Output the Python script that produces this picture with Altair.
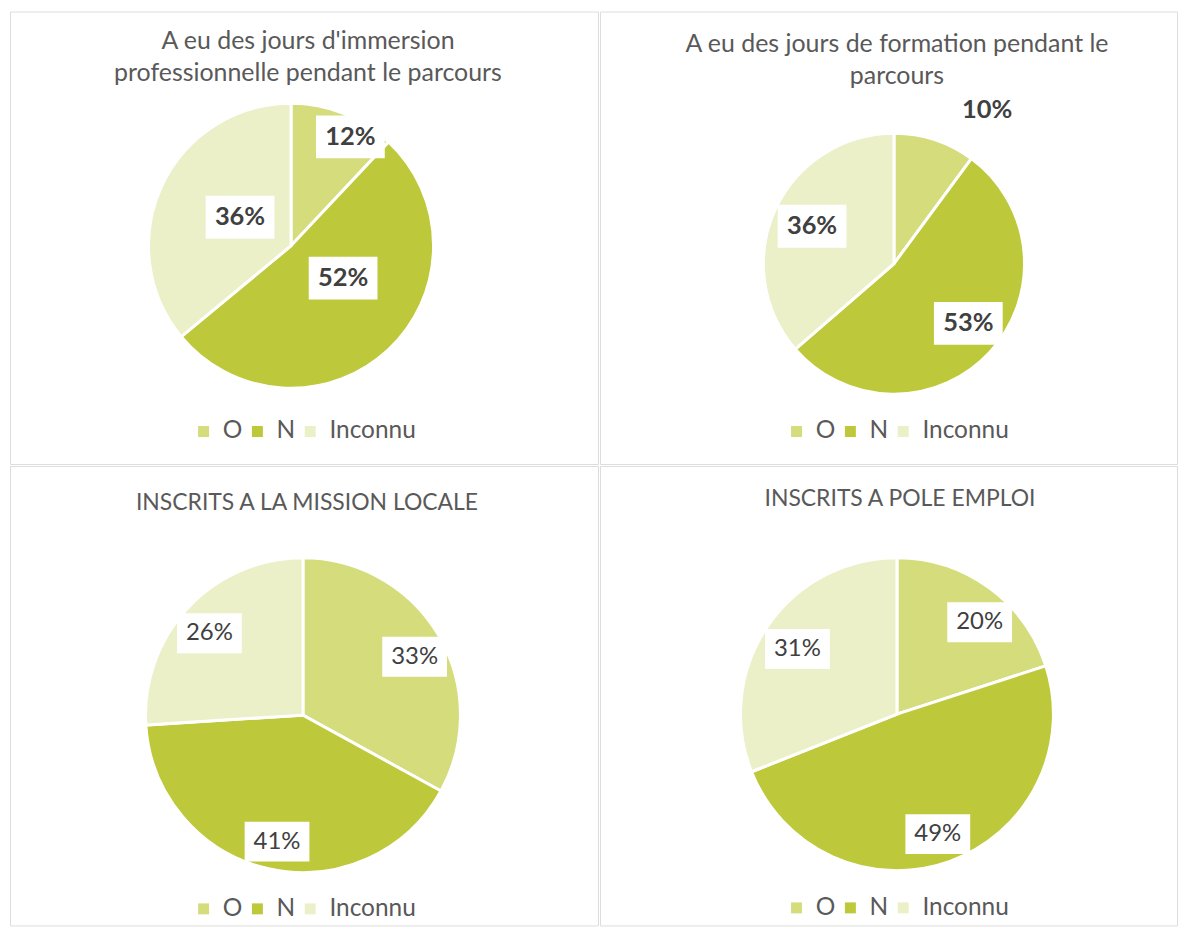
import math
import altair as alt
import pandas as pd

# ---------------- data ----------------
categories = ["O", "N", "Inconnu"]
colors = ["#D4DC7C", "#BDC83A", "#ECF0C8"]

titles = [
    ["A eu des jours d'immersion", "professionnelle pendant le parcours"],
    ["A eu des jours de formation pendant le", "parcours"],
    ["INSCRITS A LA MISSION LOCALE"],
    ["INSCRITS A POLE EMPLOI"],
]
values_immersion = [12, 52, 36]
values_formation = [10, 53, 36]
values_mission = [33, 41, 26]
values_pole = [20, 49, 31]
all_values = [values_immersion, values_formation, values_mission, values_pole]

# ---------------- layout (positions / styles) ----------------
layouts = [
    dict(w=590, h=454, cx=282, cy=235, r=143, tx=299, ty=30, tfs=25, lgx=182, lgy=409,
         lr=[0.87, 0.43, 0.41], ls=[7, -15, 4], box=[1, 1, 1], bw=69, bh=43,
         weight="bold", lfs=25.5),
    dict(w=579, h=454, cx=295, cy=253, r=131, tx=298, ty=33, tfs=25, lgx=185, lgy=409,
         lr=[1.38, 0.73, 0.69], ls=[13, -4, 0], box=[0, 1, 1], bw=69, bh=43,
         weight="bold", lfs=25.5),
    dict(w=590, h=461, cx=294, cy=250, r=158, tx=298, ty=37, tfs=23, lgx=182, lgy=432,
         lr=[0.80, 0.82, 0.79], ls=[3, -1, -2], box=[1, 1, 1], bw=65, bh=40,
         weight="normal", lfs=24),
    dict(w=579, h=461, cx=298, cy=249, r=157, tx=301, ty=33, tfs=23, lgx=185, lgy=431,
         lr=[0.79, 0.81, 0.76], ls=[6, 1, -1], box=[1, 1, 1], bw=65, bh=40,
         weight="normal", lfs=24),
]

FONT = "Lato"


def panel(title_lines, vals, L):
    df = pd.DataFrame({
        "cat": categories,
        "v": vals,
        "idx": list(range(len(categories))),
        "lr": L["lr"],
        "ls": L["ls"],
        "box": L["box"],
    })
    base = alt.Chart(df)

    arcs = base.mark_arc(outerRadius=L["r"], stroke="white", strokeWidth=3).encode(
        theta=alt.Theta("v:Q", stack=True),
        order=alt.Order("idx:Q"),
        color=alt.Color(
            "cat:N",
            scale=alt.Scale(domain=categories, range=colors),
            sort=categories,
            legend=alt.Legend(
                orient="none", legendX=L["lgx"], legendY=L["lgy"],
                direction="horizontal", title=None,
                symbolType="square", symbolSize=121, symbolStrokeWidth=0,
                symbolOpacity=1,
                labelFont=FONT, labelFontSize=24.5, labelColor="#595959",
                labelOffset=7, columnPadding=2,
            ),
        ),
        x=alt.value(L["cx"]),
        y=alt.value(L["cy"]),
    )

    cx, cy, r = L["cx"], L["cy"], L["r"]
    pos = (
        base.transform_joinaggregate(total="sum(v)")
        .transform_window(cum="sum(v)", sort=[alt.SortField("idx")])
        .transform_calculate(
            mid="(datum.cum - datum.v/2) / datum.total * 2 * PI + datum.ls * PI / 180",
        )
        .transform_calculate(
            px=f"{cx} + {r} * datum.lr * sin(datum.mid)",
            py=f"{cy} - {r} * datum.lr * cos(datum.mid)",
            lab="datum.v + '%'",
        )
    )

    ratio = L["bh"] / L["bw"]
    shape = f"M-1,-{ratio:.4f}L1,-{ratio:.4f}L1,{ratio:.4f}L-1,{ratio:.4f}Z"
    boxes = pos.transform_filter("datum.box == 1").mark_point(
        shape=shape, size=L["bw"] ** 2, filled=True, color="white",
        opacity=1, strokeWidth=0,
    ).encode(
        x=alt.X("px:Q", scale=None, axis=None),
        y=alt.Y("py:Q", scale=None, axis=None),
    )

    labels = pos.mark_text(
        font=FONT, fontSize=L["lfs"], fontWeight=L["weight"], color="#404040",
        align="center", baseline="middle",
    ).encode(
        x=alt.X("px:Q", scale=None, axis=None),
        y=alt.Y("py:Q", scale=None, axis=None),
        text="lab:N",
    )

    title = alt.Chart(alt.Data(values=[{"k": 0}])).mark_text(
        font=FONT, fontSize=L["tfs"], color="#595959", align="center",
        baseline="middle", lineHeight=32,
    ).encode(
        x=alt.value(L["tx"]),
        y=alt.value(L["ty"]),
        text=alt.value(title_lines),
    )

    return alt.layer(arcs, boxes, labels, title).properties(width=L["w"], height=L["h"])


panels = [panel(t, v, L) for t, v, L in zip(titles, all_values, layouts)]

chart = (
    alt.concat(*panels, columns=2, spacing=0)
    .resolve_scale(color="independent")
    .resolve_legend(color="independent")
    .properties(padding=1, align="each")
    .configure_view(stroke="#D9D9D9", strokeWidth=2, fill="white")
    .configure(background="white")
)

chart.save("out.html", embed_options={"renderer": "svg", "actions": False})
